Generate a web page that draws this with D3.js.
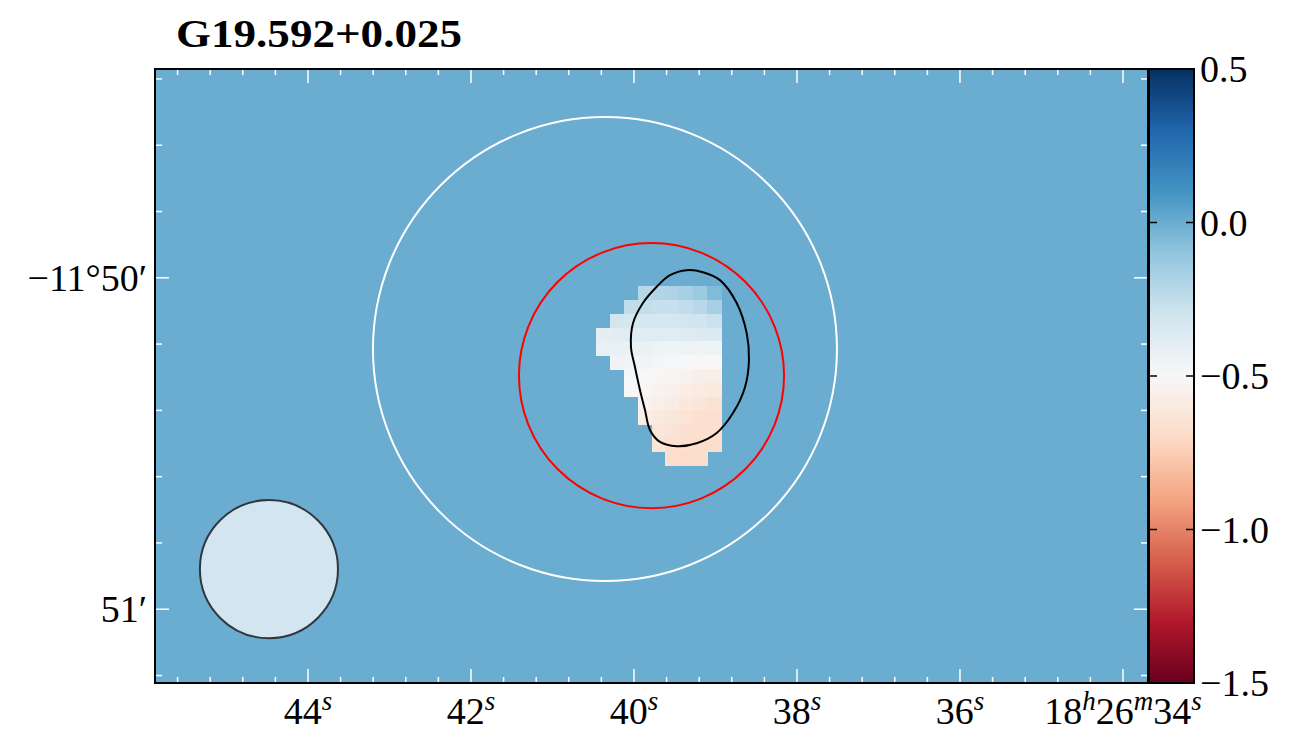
<!DOCTYPE html>
<html>
<head>
<meta charset="utf-8">
<script src="https://cdn.jsdelivr.net/npm/d3@7"></script>
<style>
  html, body { margin: 0; padding: 0; background: #fff; }
  svg { display: block; }
  text { font-family: "Liberation Serif", "DejaVu Serif", serif; fill: #000; }
</style>
</head>
<body>
<svg id="chart" width="1299" height="745"></svg>
<script>
// ---------------- DATA ----------------
const title = "G19.592+0.025";

// Axis extents (RA seconds past 18h26m, Dec arcmin past -11°)
const raExtent = [45.877, 33.693];
const decExtent = [49.37, 51.2226];
const decCenterDeg = -11.84;

// Ticks
const raMajorTicks = [44, 42, 40, 38, 36, 34];
const raLabels = [["44", "s"], ["42", "s"], ["40", "s"], ["38", "s"], ["36", "s"], ["18", "h", "26", "m", "34", "s"]];
const decMajorTicks = [50, 51];
const decLabels = ["\u221211\u00b050\u2032", "51\u2032"];
const cbarTicks = [0.5, 0.0, -0.5, -1.0, -1.5];
const cbarLabels = ["0.5", "0.0", "\u22120.5", "\u22121.0", "\u22121.5"];

// Colour scale
const vmin = -1.5, vmax = 0.5;
const backgroundValue = 0.0;
const rdbuColors = ["#67001f","#b2182b","#d6604d","#f4a582","#fddbc7","#f7f7f7","#d1e5f0","#92c5de","#4393c3","#2166ac","#053061"];

// Pixel map (rows top->bottom, cols left->right), null = blank
const gridOriginRA = 40.466;   // left edge of first column (s)
const gridOriginDec = 50.025;  // top edge of first row (arcmin)
const pixelArcsec = 2.5;
const pixelValues = [
  [null, null, null, -0.21, -0.20, -0.19, -0.17, -0.13, -0.06],
  [null, null, -0.25, -0.26, -0.27, -0.27, -0.25, -0.22, -0.17],
  [null, -0.31, -0.32, -0.32, -0.32, -0.32, -0.31, -0.30, -0.28],
  [-0.40, -0.39, -0.38, -0.38, -0.38, -0.38, -0.37, -0.36, -0.35],
  [-0.42, -0.42, -0.43, -0.43, -0.44, -0.45, -0.45, -0.46, -0.45],
  [null, -0.46, -0.47, -0.47, -0.48, -0.49, -0.50, -0.51, -0.50],
  [null, null, -0.49, -0.50, -0.51, -0.52, -0.54, -0.56, -0.56],
  [null, null, -0.50, -0.51, -0.53, -0.55, -0.57, -0.59, -0.60],
  [null, null, null, -0.53, -0.56, -0.58, -0.61, -0.63, -0.65],
  [null, null, null, -0.57, -0.60, -0.62, -0.64, -0.66, -0.67],
  [null, null, null, null, -0.62, -0.64, -0.66, -0.67, -0.67],
  [null, null, null, null, -0.64, -0.66, -0.67, -0.68, -0.68],
  [null, null, null, null, null, -0.67, -0.69, -0.68, null]
];

// Circles: [ra (s), dec (arcmin), radius (arcsec)]
const outerCircle = [40.356, 50.215, 42.0];
const innerCircle = [39.785, 50.295, 24.0];
const beamCircle = [44.479, 50.879, 12.5];

// Contour (ra s, dec arcmin)
const contourRA  = [39.353, 39.558, 39.721, 39.890, 40.012, 40.037, 39.988, 39.926, 39.865, 39.804, 39.681, 39.476, 39.231, 38.985, 38.785, 38.638, 38.589, 38.617, 38.740, 38.945, 39.153];
const contourDec = [49.977, 49.992, 50.027, 50.076, 50.137, 50.209, 50.269, 50.339, 50.399, 50.459, 50.495, 50.508, 50.499, 50.468, 50.408, 50.330, 50.248, 50.167, 50.076, 50.007, 49.983];

// ---------------- LAYOUT ----------------
const W = 1299, H = 745;
const plot = { left: 155, top: 69, width: 993, height: 614 };
const cbar = { left: 1149, width: 45 };
const fontSize = 38;

const svg = d3.select("#chart");
svg.append("rect").attr("width", W).attr("height", H).attr("fill", "#fff");

const x = d3.scaleLinear().domain(raExtent).range([plot.left, plot.left + plot.width]);
const y = d3.scaleLinear().domain(decExtent).range([plot.top, plot.top + plot.height]);
const color = d3.scaleLinear()
  .domain(rdbuColors.map((c, i) => vmin + (vmax - vmin) * i / (rdbuColors.length - 1)))
  .range(rdbuColors).clamp(true);

const raPerArcsec = 1 / (15 * Math.cos(decCenterDeg * Math.PI / 180));
const pxPerArcsec = Math.abs(y(decExtent[0] + 1 / 60) - y(decExtent[0]));

// clip
svg.append("clipPath").attr("id", "clip").append("rect")
  .attr("x", plot.left).attr("y", plot.top).attr("width", plot.width).attr("height", plot.height);

const g = svg.append("g").attr("clip-path", "url(#clip)");

// background
g.append("rect")
  .attr("x", x(raExtent[0])).attr("y", y(decExtent[0]))
  .attr("width", x(raExtent[1]) - x(raExtent[0]))
  .attr("height", y(decExtent[1]) - y(decExtent[0]))
  .attr("fill", color(backgroundValue));

// pixels
const cells = [];
pixelValues.forEach((row, r) => row.forEach((v, c) => {
  if (v !== null) cells.push({ r, c, v });
}));
const dRA = pixelArcsec * raPerArcsec;
const dDec = pixelArcsec / 60;
g.append("g").attr("shape-rendering", "crispEdges").selectAll("rect").data(cells).join("rect")
  .attr("x", d => x(gridOriginRA - d.c * dRA))
  .attr("y", d => y(gridOriginDec + d.r * dDec))
  .attr("width", d => x(gridOriginRA - (d.c + 1) * dRA) - x(gridOriginRA - d.c * dRA) + 0.6)
  .attr("height", d => y(gridOriginDec + (d.r + 1) * dDec) - y(gridOriginDec + d.r * dDec) + 0.6)
  .attr("fill", d => color(d.v));

// circles
function drawCircle(c, stroke, fill, sw) {
  g.append("circle")
    .attr("cx", x(c[0])).attr("cy", y(c[1]))
    .attr("r", c[2] * pxPerArcsec)
    .attr("fill", fill).attr("stroke", stroke).attr("stroke-width", sw);
}
drawCircle(outerCircle, "#ffffff", "none", 2);
drawCircle(innerCircle, "#ff0000", "none", 2);
drawCircle(beamCircle, "#2f383d", "#d2e5f0", 2);

// contour
const contourPts = contourRA.map((ra, i) => [x(ra), y(contourDec[i])]);
g.append("path")
  .attr("d", d3.line().curve(d3.curveCatmullRomClosed.alpha(0.5))(contourPts))
  .attr("fill", "none").attr("stroke", "#000").attr("stroke-width", 2);

// ticks (white, inside)
const ticksG = svg.append("g").attr("stroke", "#fff").attr("stroke-width", 1.5);
const raMinor = d3.range(0, 40).map(i => 46 - 0.4 * i).filter(v => v < raExtent[0] && v > raExtent[1]);
const decMinor = d3.range(0, 20).map(i => 49 + 0.2 * i).filter(v => v > decExtent[0] && v < decExtent[1]);
function isMajor(v, arr) { return arr.some(a => Math.abs(a - v) < 1e-6); }
raMinor.forEach(v => {
  const L = isMajor(v, raMajorTicks) ? 14 : 6;
  const px = x(v);
  ticksG.append("line").attr("x1", px).attr("x2", px).attr("y1", plot.top).attr("y2", plot.top + L);
  ticksG.append("line").attr("x1", px).attr("x2", px).attr("y1", plot.top + plot.height).attr("y2", plot.top + plot.height - L);
});
decMinor.forEach(v => {
  const L = isMajor(v, decMajorTicks) ? 14 : 7;
  const py = y(v);
  ticksG.append("line").attr("y1", py).attr("y2", py).attr("x1", plot.left).attr("x2", plot.left + L);
  ticksG.append("line").attr("y1", py).attr("y2", py).attr("x1", plot.left + plot.width).attr("x2", plot.left + plot.width - L);
});

// frame
svg.append("rect")
  .attr("x", plot.left).attr("y", plot.top).attr("width", plot.width).attr("height", plot.height)
  .attr("fill", "none").attr("stroke", "#000").attr("stroke-width", 2);

// x labels
raMajorTicks.forEach((v, i) => {
  const parts = raLabels[i];
  const t = svg.append("text")
    .attr("x", x(v)).attr("y", 724)
    .attr("text-anchor", "middle")
    .attr("font-size", fontSize);
  parts.forEach((p, k) => {
    if (k % 2 === 0) {
      t.append("tspan").text(p).attr("font-size", fontSize).attr("dy", k === 0 ? 0 : 14);
    } else {
      t.append("tspan").text(p).attr("font-size", 27).attr("font-style", "italic").attr("dy", -14);
    }
  });
});

// y labels
decMajorTicks.forEach((v, i) => {
  svg.append("text")
    .attr("x", 147).attr("y", y(v) + 13)
    .attr("text-anchor", "end")
    .attr("font-size", fontSize)
    .text(decLabels[i]);
});

// colorbar
const cy = d3.scaleLinear().domain([vmin, vmax]).range([plot.top + plot.height, plot.top]);
const grad = svg.append("defs").append("linearGradient").attr("id", "cbgrad")
  .attr("x1", 0).attr("y1", 1).attr("x2", 0).attr("y2", 0);
rdbuColors.forEach((c, i) => {
  grad.append("stop").attr("offset", i / (rdbuColors.length - 1)).attr("stop-color", c);
});
svg.append("rect")
  .attr("x", cbar.left).attr("y", cy(vmax)).attr("width", cbar.width).attr("height", cy(vmin) - cy(vmax))
  .attr("fill", "url(#cbgrad)");
cbarTicks.forEach((v, i) => {
  const py = cy(v);
  svg.append("line").attr("x1", cbar.left).attr("x2", cbar.left + 8).attr("y1", py).attr("y2", py)
    .attr("stroke", "#000").attr("stroke-width", 1.5);
  svg.append("line").attr("x1", cbar.left + cbar.width).attr("x2", cbar.left + cbar.width - 8).attr("y1", py).attr("y2", py)
    .attr("stroke", "#000").attr("stroke-width", 1.5);
  svg.append("text").attr("x", cbar.left + cbar.width + 6).attr("y", py + 13)
    .attr("font-size", fontSize).text(cbarLabels[i]);
});
svg.append("rect")
  .attr("x", cbar.left).attr("y", cy(vmax)).attr("width", cbar.width).attr("height", cy(vmin) - cy(vmax))
  .attr("fill", "none").attr("stroke", "#000").attr("stroke-width", 2);

// title
svg.append("text")
  .attr("x", 176).attr("y", 47)
  .attr("font-size", 40).attr("font-weight", "bold")
  .attr("textLength", 286).attr("lengthAdjust", "spacingAndGlyphs")
  .text(title);
</script>
</body>
</html>
